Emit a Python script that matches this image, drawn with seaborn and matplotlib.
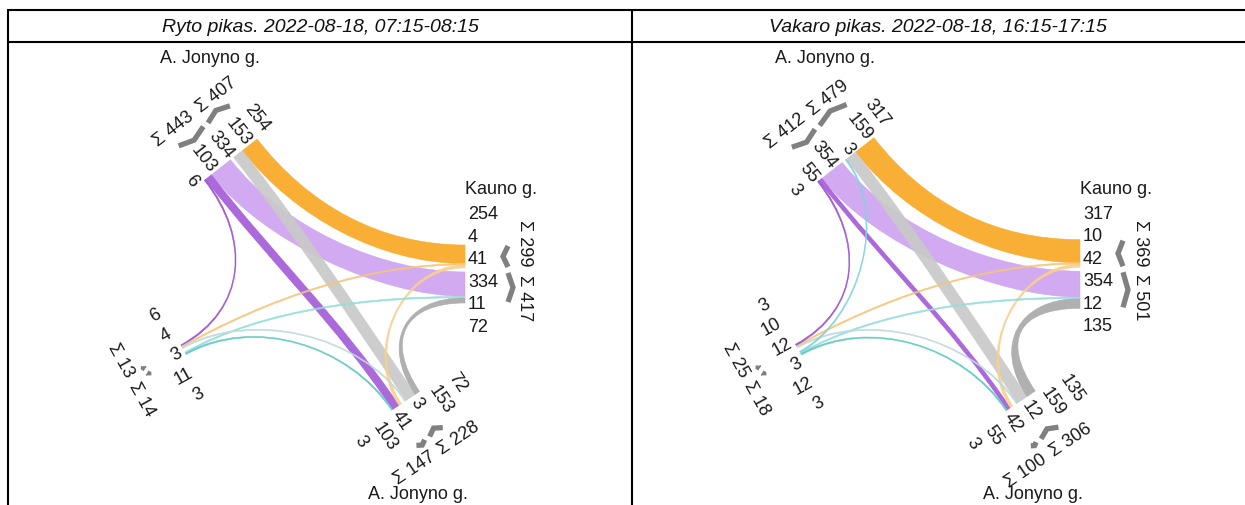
import numpy as np
import matplotlib
matplotlib.use("Agg")
import matplotlib.pyplot as plt
from matplotlib.path import Path
from matplotlib.patches import PathPatch
from matplotlib import font_manager
import seaborn as sns

# intersection arms and their direction (degrees, counter-clockwise from east)
arms = ["N", "E", "S", "W"]
arm_angle = {"N": 128, "E": 0, "S": -56, "W": 209}
arm_radius = {"N": 145, "E": 145, "S": 153, "W": 156}
street_names = {"N": "A. Jonyno g.", "E": "Kauno g.", "S": "A. Jonyno g."}

titles = ["Ryto pikas. 2022-08-18, 07:15-08:15",
          "Vakaro pikas. 2022-08-18, 16:15-17:15"]

# morning peak: origin -> destination, vehicles
am_from = ["N", "N", "E", "E", "E", "S", "S", "S", "W", "W", "W"]
am_to = ["E", "S", "N", "S", "W", "N", "E", "W", "N", "E", "S"]
am_vals = [254, 153, 334, 72, 11, 103, 41, 3, 6, 4, 3]

# evening peak
pm_from = ["N", "N", "N", "E", "E", "E", "S", "S", "S", "W", "W", "W"]
pm_to = ["E", "S", "W", "N", "S", "W", "N", "E", "W", "N", "E", "S"]
pm_vals = [317, 159, 3, 354, 135, 12, 55, 42, 3, 3, 10, 12]

# colour by destination, shade by origin
flow_colors = {
    ("N", "E"): "#F9A825", ("S", "E"): "#F8D08F", ("W", "E"): "#F6C57A",
    ("E", "N"): "#CDA3F0", ("S", "N"): "#A45CD8", ("W", "N"): "#9A4ED0",
    ("N", "S"): "#C9C9C9", ("E", "S"): "#A9A9A9", ("W", "S"): "#BFD9DB",
    ("E", "W"): "#93DEDC", ("S", "W"): "#5EC8C2", ("N", "W"): "#7FD3E0",
}

K = 0.073      # px per vehicle
MINW = 1.4
GAP = 4
FS = 13

sns.set_theme(style="white")
plt.rcParams["font.family"] = ["Liberation Sans", "DejaVu Sans"]

installed = {f.name for f in font_manager.fontManager.ttflist}
if "Liberation Sans Narrow" in installed:
    title_font, title_fs = ["Liberation Sans Narrow", "Liberation Sans"], 16.5
else:
    title_font, title_fs = ["Liberation Sans", "DejaVu Sans"], 14


def unit(a):
    th = np.radians(arm_angle[a])
    return np.array([np.cos(th), np.sin(th)]), np.array([-np.sin(th), np.cos(th)])


def pt(c, a, p, d=0.0):
    u, t = unit(a)
    return c + (arm_radius[a] + d) * u + p * t


def cw_order(a):
    others = [b for b in arms if b != a]
    return sorted(others, key=lambda b: (arm_angle[a] - arm_angle[b]) % 360)


def draw_panel(ax, c, frm, to, vals):
    c = np.array(c, dtype=float)
    seg_out, seg_in, info = {}, {}, {}
    for a in arms:
        order = cw_order(a)
        outs = [i for b in order for i in range(len(vals)) if frm[i] == a and to[i] == b]
        ins = [i for b in order for i in range(len(vals)) if to[i] == a and frm[i] == b]
        w_out = [max(vals[i] * K, MINW) for i in outs]
        w_in = [max(vals[i] * K, MINW) for i in ins]
        total = sum(w_out) + GAP + sum(w_in)
        p = -total / 2
        for i, w in zip(outs, w_out):
            seg_out[i] = (p, p + w)
            p += w
        out_rng = (-total / 2, p)
        gap_c = p + GAP / 2
        p += GAP
        in_lo = p
        for i, w in zip(ins, w_in):
            seg_in[i] = (p, p + w)
            p += w
        info[a] = dict(outs=outs, ins=ins, out_rng=out_rng, in_rng=(in_lo, p), gap=gap_c)

    # ribbons, biggest first
    for i in sorted(range(len(vals)), key=lambda j: -vals[j]):
        A, B = frm[i], to[i]
        uA, _ = unit(A)
        uB, _ = unit(B)
        diff = (arm_angle[A] - arm_angle[B]) % 360
        diff = min(diff, 360 - diff)
        L = arm_radius[A] * (0.3 + 0.4 * diff / 180)
        a_lo, a_hi = seg_out[i]
        b_lo, b_hi = seg_in[i]
        P_alo, P_ahi = pt(c, A, a_lo), pt(c, A, a_hi)
        P_blo, P_bhi = pt(c, B, b_lo), pt(c, B, b_hi)
        verts = [P_alo, P_ahi, P_ahi - uA * L, P_blo - uB * L, P_blo,
                 P_bhi, P_bhi - uB * L, P_alo - uA * L, P_alo, P_alo]
        codes = [Path.MOVETO, Path.LINETO, Path.CURVE4, Path.CURVE4, Path.CURVE4,
                 Path.LINETO, Path.CURVE4, Path.CURVE4, Path.CURVE4, Path.CLOSEPOLY]
        col = flow_colors[(A, B)]
        ax.add_patch(PathPatch(Path(verts, codes), facecolor=col, edgecolor=col,
                               lw=0.4, alpha=0.92, zorder=2))

    # labels
    for a in arms:
        th = arm_angle[a] % 360
        if 90 < th <= 270:
            rot, ha = th - 180, "right"
        else:
            rot, ha = (th if th <= 90 else th - 360), "left"
        inf = info[a]
        lab = [vals[i] for i in inf["outs"] + inf["ins"]]
        n = len(lab)
        for j, v in enumerate(lab):
            p = inf["gap"] + (j - (n - 1) / 2) * 22.5
            x, y = pt(c, a, p, 3)
            ax.text(x, y, str(v), rotation=rot, ha=ha, va="center",
                    rotation_mode="anchor", fontsize=FS, color="#1a1a1a", zorder=4)

        # sums and braces
        srot = arm_angle[a] - 90
        flipped = False
        while srot >= 90:
            srot -= 180
            flipped = not flipped
        while srot < -90:
            srot += 180
            flipped = not flipped
        groups = [("out", inf["out_rng"], inf["outs"]), ("in", inf["in_rng"], inf["ins"])]
        for kind, (lo, hi), idx in groups:
            total = sum(vals[i] for i in idx)
            if kind == "out":
                p = inf["gap"] - 4
                sha = "right" if flipped else "left"
            else:
                p = inf["gap"] + 4
                sha = "left" if flipped else "right"
            x, y = pt(c, a, p, 60)
            ax.text(x, y, "Σ " + str(total), rotation=srot, ha=sha, va="center",
                    rotation_mode="anchor", fontsize=FS, color="#1a1a1a", zorder=4)
            span = max(hi - lo - 2, 3)
            mid = (lo + hi) / 2
            dv = min(5, span * 0.3)
            dv = dv if kind == "out" else -dv
            br = np.array([pt(c, a, mid - span / 2, 43), pt(c, a, mid, 43 + dv),
                           pt(c, a, mid + span / 2, 43)])
            ax.plot(br[:, 0], br[:, 1], color="#808080", lw=3.8,
                    solid_capstyle="butt", solid_joinstyle="miter", zorder=3)

    ax.text(c[0] - 110, c[1] + 217, street_names["N"], ha="center", va="center",
            fontsize=FS, color="#1a1a1a")
    ax.text(c[0] + 145, c[1] + 85, street_names["E"], ha="left", va="center",
            fontsize=FS, color="#1a1a1a")
    ax.text(c[0] + 98, c[1] - 220, street_names["S"], ha="center", va="center",
            fontsize=FS, color="#1a1a1a")


W, H = 1245, 506
fig = plt.figure(figsize=(W / 100, H / 100), dpi=100)
ax = fig.add_axes([0, 0, 1, 1])
ax.set_xlim(0, W)
ax.set_ylim(0, H)
ax.axis("off")

# table frame
lw = 1.5
ax.plot([8, W], [H - 11, H - 11], color="black", lw=lw)
ax.plot([8, W], [H - 43, H - 43], color="black", lw=lw)
ax.plot([8, 8], [0, H - 11], color="black", lw=lw)
ax.plot([632, 632], [0, H - 11], color="black", lw=lw)

for x0, title in zip([320, 938], titles):
    ax.text(x0, H - 27, title, ha="center", va="center", fontsize=title_fs,
            style="italic", family=title_font, color="#111111")

draw_panel(ax, (320, H - 275), am_from, am_to, am_vals)
draw_panel(ax, (935, H - 275), pm_from, pm_to, pm_vals)

fig.savefig("out.png", dpi=100)
